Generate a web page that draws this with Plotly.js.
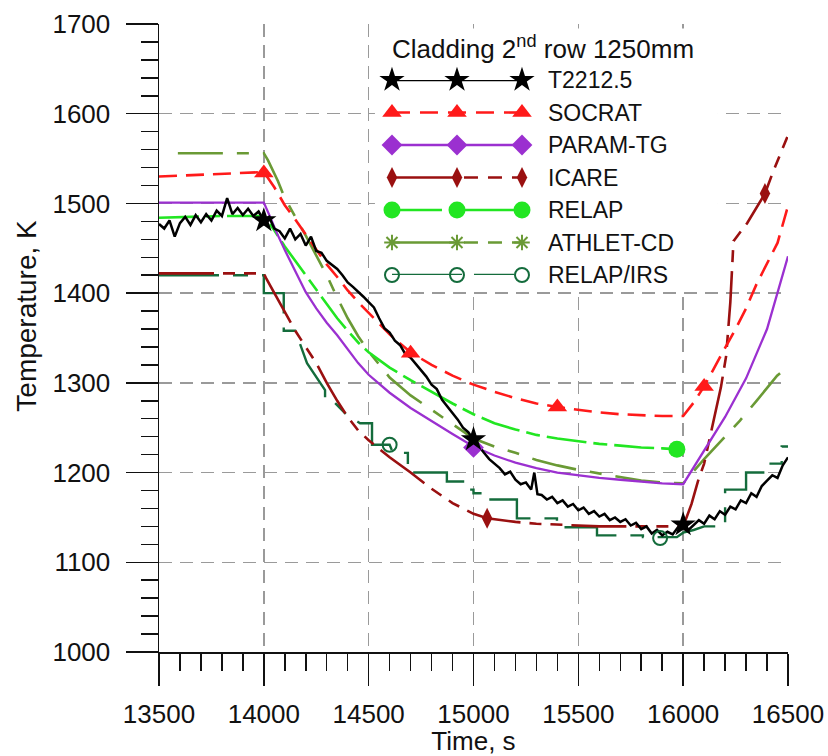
<!DOCTYPE html>
<html>
<head>
<meta charset="utf-8">
<script src="https://cdn.plot.ly/plotly-3.0.1.min.js"></script>
<style>html,body{margin:0;padding:0;background:#fff;}#chart{width:828px;height:756px;}</style>
</head>
<body>
<div id="chart"></div>
<script>
// ---------------- data ----------------
const seriesNames = ["T2212.5", "SOCRAT", "PARAM-TG", "ICARE", "RELAP", "ATHLET-CD", "RELAP/IRS"];
const legendTitle = "Cladding 2<sup>nd</sup> row 1250mm";
const xTitle = "Time, s";
const yTitle = "Temperature, K";
const xTicks = [13500, 14000, 14500, 15000, 15500, 16000, 16500];
const yTicks = [1000, 1100, 1200, 1300, 1400, 1500, 1600, 1700];

const tExp = [13500,13525,13550,13575,13600,13625,13650,13675,13700,13725,13750,13775,13800,13825,13850,13875,13900,13925,13950,13975,
  14000,14025,14050,14075,14100,14125,14150,14175,14200,14225,14250,14275,14300,14325,14350,14375,14400,14425,14450,14475,
  14500,14525,14550,14575,14600,14625,14650,14675,14700,14725,14750,14775,14800,14825,14850,14875,14900,14925,14950,14975,
  15000,15025,15050,15075,15100,15125,15150,15175,15200,15225,15250,15275,15290,15305,15325,15350,15375,15400,15425,15450,15475,
  15500,15525,15550,15575,15600,15625,15650,15675,15700,15725,15750,15775,15800,15825,15850,15875,15900,15925,15950,15975,
  16000,16025,16050,16075,16100,16125,16150,16175,16200,16225,16250,16275,16300,16325,16350,16375,16400,16425,16450,16475,16500];
const TExp = [1477,1472,1481,1463,1478,1485,1476,1487,1479,1488,1481,1492,1486,1506,1488,1495,1487,1494,1486,1491,
  1481,1485,1472,1469,1461,1472,1460,1466,1453,1463,1447,1445,1436,1431,1427,1420,1412,1407,1402,1396,
  1390,1384,1372,1361,1356,1347,1342,1332,1328,1321,1313,1307,1298,1293,1281,1274,1266,1259,1250,1245,
  1237,1229,1222,1215,1210,1205,1198,1201,1192,1187,1189,1181,1200,1176,1175,1170,1173,1166,1169,1162,1165,
  1158,1161,1154,1157,1151,1154,1147,1150,1145,1148,1141,1144,1137,1140,1132,1136,1130,1134,1131,1139,
  1141,1136,1142,1147,1143,1152,1148,1157,1153,1162,1159,1169,1166,1177,1173,1185,1191,1197,1194,1208,1217];
const tExpMk = [14000, 15000, 16000];
const TExpMk = [1481, 1237, 1142];

const tSoc = [13500,13800,14000,14050,14100,14150,14200,14250,14300,14350,14400,14450,14500,14550,14600,14650,14700,14800,14900,15000,15100,15200,15300,15400,15500,15600,15700,15800,15900,16000,16050,16100,16150,16200,16250,16300,16350,16400,16450,16500];
const TSoc = [1530,1533,1535,1518,1498,1482,1465,1448,1432,1418,1403,1390,1378,1366,1354,1344,1334,1320,1308,1298,1290,1283,1277,1273,1270,1267,1265,1264,1263,1263,1278,1296,1318,1339,1360,1383,1410,1433,1456,1497];
const tSocMk = [14000, 14700, 15400, 16100];
const TSocMk = [1534, 1333, 1273, 1296];

const tPar = [13500,14000,14030,14060,14100,14150,14200,14250,14300,14350,14400,14450,14500,14600,14700,14800,14900,15000,15100,15200,15300,15400,15500,15600,15700,15800,15900,16000,16100,16200,16300,16400,16500];
const TPar = [1501,1501,1485,1468,1448,1424,1401,1383,1367,1353,1338,1322,1309,1289,1272,1257,1243,1229,1219,1211,1205,1200,1197,1194,1192,1190,1188,1187,1225,1262,1305,1360,1441];
const tParMk = [15000];
const TParMk = [1228];

const tIca = [13500,14000,14010,14050,14100,14150,14200,14250,14300,14350,14400,14450,14500,14550,14600,14700,14800,14900,15000,15065,15200,15300,15400,15500,15600,15700,15800,15900,16000,16040,16070,16100,16150,16180,16205,16225,16240,16305,16390,16430,16500];
const TIca = [1422,1422,1417,1400,1378,1358,1340,1322,1300,1280,1262,1247,1236,1226,1217,1200,1182,1166,1154,1149,1145,1143,1142,1141,1140,1140,1140,1140,1140,1165,1190,1210,1262,1295,1330,1390,1458,1478,1511,1536,1576];
const tIcaMk = [15065, 16390];
const TIcaMk = [1149, 1511];

const tRel = [13500,13800,14000,14050,14100,14150,14200,14250,14300,14350,14400,14450,14500,14600,14700,14800,14900,15000,15100,15200,15300,15400,15500,15600,15700,15800,15900,15970];
const TRel = [1484,1486,1486,1470,1452,1436,1420,1403,1388,1372,1358,1345,1334,1317,1303,1290,1277,1265,1255,1248,1242,1238,1235,1232,1230,1228,1227,1226];
const tRelMk = [15970];
const TRelMk = [1226];

const tAth = [13590,14000,14020,14067,14100,14200,14300,14350,14400,14450,14500,14600,14700,14800,14900,15000,15100,15200,15300,15400,15500,15600,15700,15800,15900,16000,16100,16200,16271,16350,16448,16500];
const TAth = [1556,1556,1548,1525,1506,1464,1420,1395,1372,1352,1335,1306,1286,1270,1253,1238,1229,1222,1214,1208,1203,1199,1195,1191,1189,1188,1215,1240,1258,1280,1308,1318];

const tIrs = [13500,14000,14000,14095,14095,14150,14206,14292,14292,14325,14397,14459,14516,14516,14600,14616,14687,14687,14760,14873,14873,14950,14950,15000,15000,15050,15050,15110,15207,15207,15303,15398,15398,15522,15589,15589,15665,15808,15808,15970,16000,16050,16100,16200,16200,16300,16300,16400,16400,16470,16470,16500];
const TIrs = [1420,1420,1400,1400,1358,1358,1322,1292,1281,1281,1264,1255,1255,1231,1231,1222,1222,1200,1200,1200,1190,1190,1181,1181,1177,1177,1170,1170,1170,1149,1149,1149,1139,1139,1139,1130,1130,1130,1128,1128,1133,1136,1140,1140,1181,1181,1200,1200,1210,1210,1229,1229];
const tIrsMk = [14600, 15890];
const TIrsMk = [1231, 1127];

// ---------------- styles ----------------
const colors = ["#000000", "#ff1a1a", "#9b30d0", "#9a1010", "#22e622", "#6a9a35", "#146c3c"];
const dashes = ["solid", "18px,9px", "solid", "55px,9px,12px,9px,12px,9px", "40px,7px,14px,7px", "45px,14px,12px,14px", "60px,14px,15px,14px"];
const widths = [2.5, 2.6, 2.3, 2.6, 2.6, 2.6, 2.4];
const symbols = ["star", "triangle-up", "diamond", "diamond-tall", "circle", "asterisk-open", "circle-open"];
const msizes = [19, 17, 16, 15, 17, 13, 14];

const lineData = [[tExp,TExp],[tSoc,TSoc],[tPar,TPar],[tIca,TIca],[tRel,TRel],[tAth,TAth],[tIrs,TIrs]];
const markData = [[tExpMk,TExpMk],[tSocMk,TSocMk],[tParMk,TParMk],[tIcaMk,TIcaMk],[tRelMk,TRelMk],[[],[]],[tIrsMk,TIrsMk]];

function markerStyle(i) {
  const open = symbols[i].indexOf("open") >= 0;
  return {symbol: symbols[i], size: msizes[i], color: colors[i],
          line: {color: colors[i], width: open ? 2 : 0}};
}

const traces = [];
const order = [6, 5, 4, 3, 2, 1, 0];
order.forEach(i => {
  traces.push({x: lineData[i][0], y: lineData[i][1], type: "scatter", mode: "lines", name: seriesNames[i],
    showlegend: false, hoverinfo: "skip",
    line: {color: colors[i], width: widths[i], dash: dashes[i]}});
});
order.forEach(i => {
  if (markData[i][0].length) traces.push({x: markData[i][0], y: markData[i][1], type: "scatter", mode: "markers",
    name: seriesNames[i] + " markers", showlegend: false, hoverinfo: "skip", marker: markerStyle(i)});
});

// legend samples, on an overlaid hidden axis pair
const legendDash = ["solid", "18px,10px", "solid", "62px,10px,14px,10px,14px,10px", "50px,8px,64px,8px", "62px,10px,14px,10px,14px,10px", "70px,12px,40px,12px"];
const legendX = [0, 0.5, 1];
seriesNames.forEach((n, i) => {
  traces.push({x: legendX, y: [i, i, i], xaxis: "x2", yaxis: "y2", type: "scatter", mode: "lines+markers",
    name: n + " legend", showlegend: false, hoverinfo: "skip", cliponaxis: false,
    line: {color: colors[i], width: widths[i], dash: legendDash[i]}, marker: markerStyle(i)});
});

const FONT = "Liberation Sans, Arial, Helvetica, sans-serif";
const gridStyle = {showgrid: true, gridcolor: "#9a9a9a", gridwidth: 1.4, griddash: "13px,8px"};
const tickStyle = {ticks: "outside", ticklen: 32, tickwidth: 1.5, tickcolor: "#111",
  showline: true, linecolor: "#111", linewidth: 1.5, zeroline: false,
  tickfont: {family: FONT, size: 26, color: "#111"}};

const annotations = seriesNames.map((n, i) => ({
  text: n, xref: "paper", yref: "y2", x: 0.6153, y: i, xanchor: "left", yanchor: "middle",
  showarrow: false, font: {family: FONT, size: 23, color: "#111"}}));
annotations.push({text: legendTitle, xref: "paper", yref: "paper", x: 0.368, y: 0.962,
  xanchor: "left", yanchor: "middle", showarrow: false, font: {family: FONT, size: 26, color: "#111"}});
// y-axis title (placed as in the reference, slightly above the axis centre)
annotations.push({text: yTitle, xref: "paper", yref: "paper", x: -0.212, y: 0.535, textangle: -90,
  xanchor: "center", yanchor: "middle", showarrow: false, font: {family: FONT, size: 28, color: "#111"}});

const layout = {
  width: 828, height: 756,
  margin: {l: 159, r: 40, t: 24, b: 104, pad: 0},
  paper_bgcolor: "#fff", plot_bgcolor: "#fff",
  showlegend: false,
  font: {family: FONT, color: "#111"},
  xaxis: Object.assign({range: [13500, 16500], tickvals: xTicks, ticktext: xTicks.map(String), ticklabelstandoff: 6,
    minor: {dtick: 100, ticks: "outside", ticklen: 17, tickwidth: 1.5, tickcolor: "#111", showgrid: false},
    title: {text: xTitle, font: {family: FONT, size: 26, color: "#111"}, standoff: 0}}, tickStyle, gridStyle),
  yaxis: Object.assign({range: [1000, 1700], tickvals: yTicks, ticktext: yTicks.map(String), ticklabelstandoff: 10,
    minor: {dtick: 20, ticks: "outside", ticklen: 17, tickwidth: 1.5, tickcolor: "#111", showgrid: false}},
    tickStyle, gridStyle),
  xaxis2: {domain: [0.3704, 0.5771], range: [0, 1], visible: false, anchor: "y2", fixedrange: true},
  yaxis2: {domain: [0.6003, 0.9108], range: [6, 0], visible: false, anchor: "x2", fixedrange: true},
  shapes: [{type: "rect", xref: "x", yref: "y", x0: 14530, x1: 16166, y0: 1404, y1: 1695,
    fillcolor: "#ffffff", line: {width: 0}, layer: "between"}],
  annotations: annotations
};

Plotly.newPlot("chart", traces, layout, {staticPlot: true, displayModeBar: false});
</script>
</body>
</html>
